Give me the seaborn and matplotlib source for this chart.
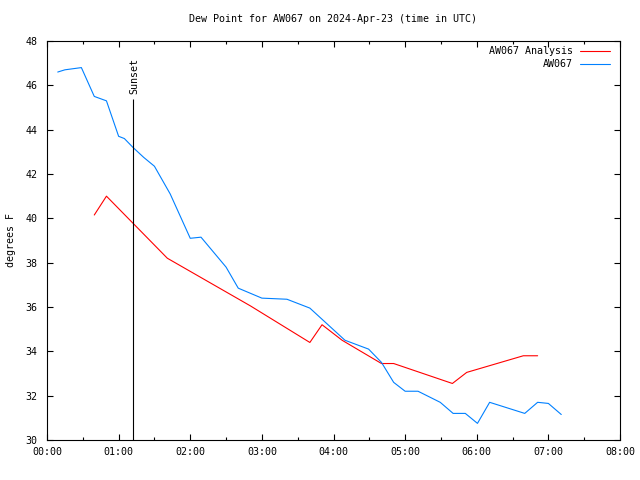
import matplotlib
matplotlib.use("Agg")
import matplotlib.pyplot as plt
import matplotlib.ticker as mticker
import seaborn as sns
import pandas as pd

# ---- data (hours after 00:00 UTC, degrees F) ----
obs_time = [0.15, 0.25, 0.48, 0.66, 0.83, 1.00, 1.08, 1.20, 1.35, 1.50, 1.72, 2.00, 2.15,
            2.50, 2.67, 3.00, 3.35, 3.67, 4.16, 4.49, 4.67, 4.84, 5.00, 5.18, 5.49, 5.67,
            5.84, 6.01, 6.18, 6.67, 6.85, 7.00, 7.18]
obs_dew = [46.6, 46.7, 46.8, 45.5, 45.3, 43.7, 43.6, 43.2, 42.75, 42.35, 41.1, 39.1, 39.15,
           37.8, 36.85, 36.4, 36.35, 35.95, 34.5, 34.1, 33.5, 32.6, 32.2, 32.2, 31.7, 31.2,
           31.2, 30.75, 31.7, 31.2, 31.7, 31.65, 31.15]

ana_time = [0.66, 0.83, 1.68, 2.84, 3.67, 3.84, 4.12, 4.67, 4.84, 5.66, 5.86, 6.65, 6.85]
ana_dew = [40.15, 41.0, 38.2, 36.05, 34.4, 35.2, 34.5, 33.45, 33.45, 32.55, 33.05, 33.8, 33.8]

sunset_time = 1.2
sunset_top = 45.4

series_names = ["AW067 Analysis", "AW067"]
series_colors = ["#ff0000", "#0080ff"]
title = "Dew Point for AW067 on 2024-Apr-23 (time in UTC)"
ylabel = "degrees F"

df = pd.concat([
    pd.DataFrame({"time": ana_time, "dew": ana_dew, "series": series_names[0]}),
    pd.DataFrame({"time": obs_time, "dew": obs_dew, "series": series_names[1]}),
], ignore_index=True)

sns.set_theme(style="white")
plt.rcParams["font.family"] = ["DejaVu Sans Mono", "DejaVu Sans"]
plt.rcParams["font.size"] = 7.2
plt.rcParams["text.color"] = "black"
plt.rcParams["axes.labelcolor"] = "black"
plt.rcParams["xtick.color"] = "black"
plt.rcParams["ytick.color"] = "black"

fig = plt.figure(figsize=(6.4, 4.8), dpi=100)
ax = fig.add_axes([47/640, 1-440/480, (620-47)/640, (440-41)/480])

sns.lineplot(data=df, x="time", y="dew", hue="series", hue_order=series_names,
             palette=dict(zip(series_names, series_colors)), linewidth=0.8,
             sort=False, estimator=None, ax=ax)

ax.vlines(sunset_time, 30, sunset_top, colors="black", linewidth=0.8)
ax.text(sunset_time + 0.02, sunset_top + 0.2, "Sunset", rotation=90, ha="center", va="bottom",
        fontsize=7.2, color="black")

ax.set_xlim(0, 8)
ax.set_ylim(30, 48)
ax.xaxis.set_major_locator(mticker.MultipleLocator(1))
ax.xaxis.set_minor_locator(mticker.MultipleLocator(0.5))
ax.xaxis.set_major_formatter(mticker.FuncFormatter(lambda v, p: f"{int(v):02d}:00"))
ax.yaxis.set_major_locator(mticker.MultipleLocator(2))

ax.tick_params(axis="both", which="major", direction="in", length=4.5, width=0.8,
               top=True, right=True, bottom=True, left=True, colors="black", labelsize=7.2,
               labelcolor="black")
ax.tick_params(axis="x", which="minor", direction="in", length=2.5, width=0.8,
               top=True, bottom=True, colors="black")
ax.tick_params(axis="x", which="major", pad=5)
ax.tick_params(axis="y", which="major", pad=7)

for s in ax.spines.values():
    s.set_visible(True)
    s.set_color("black")
    s.set_linewidth(0.8)

ax.set_xlabel("")
ax.set_ylabel(ylabel, fontsize=7.2, color="black")
ax.yaxis.set_label_coords((16 - 47) / 573, 0.5)
fig.text(333/640, 1-19/480, title, ha="center", va="center", fontsize=7.2, color="black")

handles, labels = ax.get_legend_handles_labels()
leg = ax.legend(handles, labels, loc="upper right", frameon=False, markerfirst=False,
                handlelength=3.0, handletextpad=0.7, borderaxespad=0.3, labelspacing=0.3,
                fontsize=7.2, bbox_to_anchor=(1 - 3/573, 1 + 2/399))
for t in leg.get_texts():
    t.set_color("black")

fig.savefig("out.png", dpi=100, facecolor="white")
